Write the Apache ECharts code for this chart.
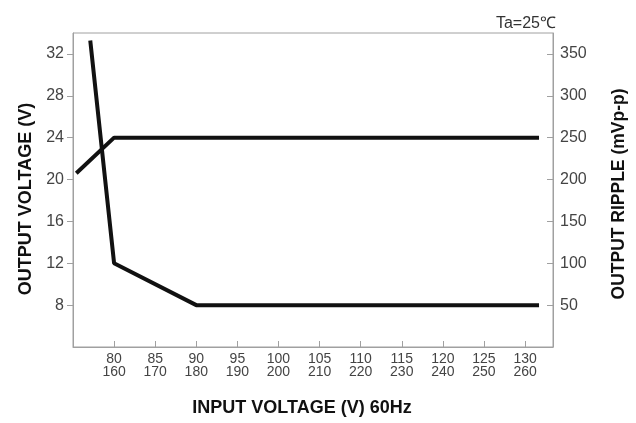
<!DOCTYPE html>
<html><head><meta charset="utf-8">
<script src="https://cdn.jsdelivr.net/npm/echarts@6/dist/echarts.min.js"></script>
<style>html,body{margin:0;padding:0;background:#fff}#c{width:636px;height:423px}</style>
</head><body><div id="c"></div>
<script>
// Data
const voltageInput = [75.4, 80, 131.7];      // input voltage (V, 60Hz low range)
const outputVoltage = [20.6, 24, 24];        // output voltage (V)
const rippleInput = [77.1, 80, 90, 131.7];
const outputRipple = [366, 100, 50, 50];     // output ripple (mVp-p)
const xTicks = [80, 85, 90, 95, 100, 105, 110, 115, 120, 125, 130];
const leftTicks = [8, 12, 16, 20, 24, 28, 32];
const rightTicks = [50, 100, 150, 200, 250, 300, 350];

const narrow = "'Liberation Sans Narrow', 'Liberation Sans', Arial, sans-serif";
const bold = "'Liberation Sans', Arial, sans-serif";
const axisGray = '#a0a0a0';
const labelColor = '#444';

const chart = echarts.init(document.getElementById('c'), null, {renderer: 'canvas'});
chart.setOption({
  animation: false,
  backgroundColor: '#fff',
  title: {
    text: 'Ta=25℃', right: 75, top: 11,
    textStyle: {fontFamily: narrow, fontSize: 16, fontWeight: 'normal', color: '#333'}
  },
  grid: {left: 73, right: 75, top: 33, bottom: 76, show: true, borderColor: axisGray, borderWidth: 1},
  xAxis: {
    type: 'value', min: 75, max: 133.4, interval: 5,
    name: 'INPUT VOLTAGE (V) 60Hz', nameLocation: 'middle', nameGap: 52,
    nameTextStyle: {fontFamily: bold, fontWeight: 'bold', fontSize: 18, color: '#111', padding: [0, 22, 0, 0]},
    axisLine: {lineStyle: {color: axisGray}},
    axisTick: {inside: true, length: 6, customValues: xTicks, lineStyle: {color: axisGray}},
    axisLabel: {customValues: xTicks, fontFamily: narrow, fontSize: 14, color: labelColor, margin: 6, lineHeight: 13,
      formatter: v => v + '\n' + (v * 2)},
    splitLine: {show: false}
  },
  yAxis: [{
    type: 'value', min: 4, max: 34, interval: 4, position: 'left',
    name: 'OUTPUT VOLTAGE (V)', nameLocation: 'middle', nameGap: 36, nameRotate: 90,
    nameTextStyle: {fontFamily: bold, fontWeight: 'bold', fontSize: 18, color: '#111', padding: [0, 18, 0, 0]},
    axisLine: {show: true, lineStyle: {color: axisGray}},
    axisTick: {show: true, length: 6, customValues: leftTicks, lineStyle: {color: axisGray}},
    axisLabel: {customValues: leftTicks, fontFamily: narrow, fontSize: 16, color: labelColor, margin: 9},
    splitLine: {show: false}
  }, {
    type: 'value', min: 0, max: 375, interval: 50, position: 'right',
    name: 'OUTPUT RIPPLE (mVp-p)', nameLocation: 'middle', nameGap: 57, nameRotate: 90,
    nameTextStyle: {fontFamily: bold, fontWeight: 'bold', fontSize: 17.5, color: '#111', padding: [0, 8, 0, 0]},
    axisLine: {show: true, lineStyle: {color: axisGray}},
    axisTick: {show: true, inside: true, length: 6, customValues: rightTicks, lineStyle: {color: axisGray}},
    axisLabel: {customValues: rightTicks, fontFamily: narrow, fontSize: 16, color: labelColor, margin: 7},
    splitLine: {show: false}
  }],
  series: [{
    type: 'line', yAxisIndex: 0, symbol: 'none',
    data: voltageInput.map((x, i) => [x, outputVoltage[i]]),
    lineStyle: {color: '#111', width: 4}
  }, {
    type: 'line', yAxisIndex: 1, symbol: 'none',
    data: rippleInput.map((x, i) => [x, outputRipple[i]]),
    lineStyle: {color: '#111', width: 4}
  }]
});
</script></body></html>
